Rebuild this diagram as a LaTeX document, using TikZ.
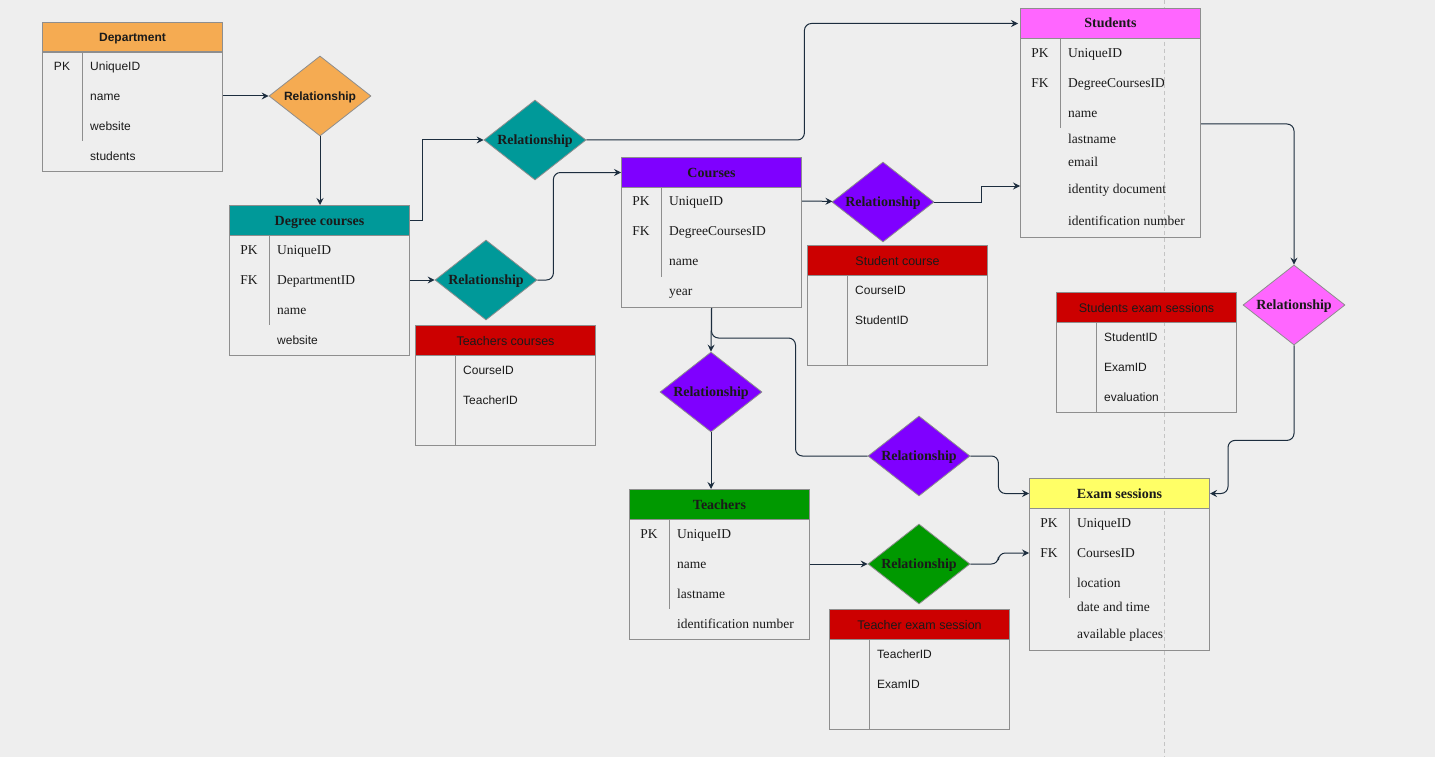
\documentclass[tikz,border=0pt]{standalone}
\usepackage{fontspec}
\setmainfont{Liberation Serif}
\setsansfont{Liberation Sans}
\usetikzlibrary{shapes.geometric,arrows.meta,positioning,calc}

\definecolor{bggray}{HTML}{EEEEEE}
\definecolor{dashgray}{HTML}{C4C4C4}
\definecolor{tbline}{HTML}{8E8E8E}
\definecolor{edgecol}{HTML}{1C2D3E}
\definecolor{txt}{HTML}{1A1A1A}
\definecolor{deptorange}{HTML}{F5AB52}
\definecolor{degteal}{HTML}{009999}
\definecolor{coupurple}{HTML}{7F00FF}
\definecolor{stumagenta}{HTML}{FF66FF}
\definecolor{linkred}{HTML}{CC0000}
\definecolor{teagreen}{HTML}{009900}
\definecolor{examyellow}{HTML}{FFFF66}

\tikzset{
  hdr/.style={draw=tbline, line width=1pt, anchor=north west, minimum width=180pt,
    minimum height=30pt, inner sep=0pt, text height=9pt, text depth=0pt, text=txt},
  hdrsans/.style={hdr, font=\sffamily\fontsize{12.5}{14}\selectfont},
  hdrserif/.style={hdr, font=\rmfamily\bfseries\fontsize{14}{16}\selectfont},
  tbody/.style={draw=tbline, line width=1pt, anchor=north west, minimum width=180pt, inner sep=0pt},
  divider/.style={draw=tbline, line width=1pt},
  rowsans/.style={anchor=west, inner sep=0pt, text height=9pt, text depth=0pt, text=txt,
    font=\sffamily\fontsize{12}{14}\selectfont},
  rowserif/.style={rowsans, font=\rmfamily\fontsize{13.5}{16}\selectfont},
  keysans/.style={rowsans, anchor=center},
  keyserif/.style={rowserif, anchor=center},
  rel/.style={diamond, draw=tbline, line width=0.8pt, minimum width=102pt, minimum height=80pt,
    aspect=1.25, inner sep=0pt, text height=9pt, text depth=0pt, text=txt,
    font=\rmfamily\bfseries\fontsize{14}{16}\selectfont},
  conn/.style={draw=edgecol, line width=1pt, -{Stealth[length=7pt,width=7pt,inset=2.5pt]}},
  link/.style={draw=edgecol, line width=1pt, rounded corners=7pt}
}

\begin{document}
\begin{tikzpicture}[x=1pt,y=-1pt]
  % canvas and page guide
  \useasboundingbox (0,0) rectangle (1435,757);
  \fill[bggray] (0,0) rectangle (1435,757);
  \draw[dashgray, line width=1pt, dash pattern=on 4pt off 3pt] (1164,0) -- (1164,757);

  % Department
  \node[hdr, fill=deptorange, font=\sffamily\bfseries\fontsize{12}{14}\selectfont] (dept-h) at (42,22) {Department};
  \node[tbody, minimum height=120pt] (dept) at (42,51) {};
  \draw[divider] ([xshift=40pt]dept.north west) -- ++(0,90);
  \node[keysans] at (62,66) {PK};
  \foreach \y/\t [count=\i] in {66/UniqueID,96/name,126/website,156/students}
    \node[rowsans] (dept-r\i) at (90,\y) {\t};

  % Degree courses
  \node[hdrserif, fill=degteal] (deg-h) at (229,205) {Degree courses};
  \node[tbody, minimum height=120pt] (deg) at (229,235) {};
  \draw[divider] ([xshift=40pt]deg.north west) -- ++(0,90);
  \node[keyserif] at (249,250) {PK};
  \node[keyserif] at (249,280) {FK};
  \foreach \y/\t [count=\i] in {250/UniqueID,280/DepartmentID,310/name}
    \node[rowserif] (deg-r\i) at (277,\y) {\t};
  \node[rowsans] (deg-r4) at (277,340) {website};

  % Teachers courses
  \node[hdrsans, fill=linkred] (tc-h) at (415,325) {Teachers courses};
  \node[tbody, minimum height=90pt] (tc) at (415,355) {};
  \draw[divider] ([xshift=40pt]tc.north west) -- ++(0,90);
  \foreach \y/\t [count=\i] in {370/CourseID,400/TeacherID}
    \node[rowsans] (tc-r\i) at (463,\y) {\t};

  % Courses
  \node[hdrserif, fill=coupurple] (cou-h) at (621,157) {Courses};
  \node[tbody, minimum height=120pt] (cou) at (621,187) {};
  \draw[divider] ([xshift=40pt]cou.north west) -- ++(0,90);
  \node[keyserif] at (641,201) {PK};
  \node[keyserif] at (641,231) {FK};
  \foreach \y/\t [count=\i] in {201/UniqueID,231/DegreeCoursesID,261/name,291/year}
    \node[rowserif] (cou-r\i) at (669,\y) {\t};

  % Student course
  \node[hdrsans, fill=linkred] (sc-h) at (807,245) {Student course};
  \node[tbody, minimum height=90pt] (sc) at (807,275) {};
  \draw[divider] ([xshift=40pt]sc.north west) -- ++(0,90);
  \foreach \y/\t [count=\i] in {290/CourseID,320/StudentID}
    \node[rowsans] (sc-r\i) at (855,\y) {\t};

  % Students
  \node[hdrserif, fill=stumagenta] (stu-h) at (1020,8) {Students};
  \node[tbody, minimum height=199pt] (stu) at (1020,38) {};
  \draw[divider] ([xshift=40pt]stu.north west) -- ++(0,90);
  \node[keyserif] at (1040,53) {PK};
  \node[keyserif] at (1040,83) {FK};
  \foreach \y/\t [count=\i] in {53/UniqueID,83/DegreeCoursesID,113/name,139/lastname,
      162/email,189/identity document,221/identification number}
    \node[rowserif] (stu-r\i) at (1068,\y) {\t};

  % Students exam sessions
  \node[hdrsans, fill=linkred] (ses-h) at (1056,292) {Students exam sessions};
  \node[tbody, minimum height=90pt] (ses) at (1056,322) {};
  \draw[divider] ([xshift=40pt]ses.north west) -- ++(0,90);
  \foreach \y/\t [count=\i] in {337/StudentID,367/ExamID,397/evaluation}
    \node[rowsans] (ses-r\i) at (1104,\y) {\t};

  % Teachers
  \node[hdrserif, fill=teagreen] (tea-h) at (629,489) {Teachers};
  \node[tbody, minimum height=120pt] (tea) at (629,519) {};
  \draw[divider] ([xshift=40pt]tea.north west) -- ++(0,90);
  \node[keyserif] at (649,534) {PK};
  \foreach \y/\t [count=\i] in {534/UniqueID,564/name,594/lastname,624/identification number}
    \node[rowserif] (tea-r\i) at (677,\y) {\t};

  % Teacher exam session
  \node[hdrsans, fill=linkred] (tes-h) at (829,609) {Teacher exam session};
  \node[tbody, minimum height=90pt] (tes) at (829,639) {};
  \draw[divider] ([xshift=40pt]tes.north west) -- ++(0,90);
  \foreach \y/\t [count=\i] in {654/TeacherID,684/ExamID}
    \node[rowsans] (tes-r\i) at (877,\y) {\t};

  % Exam sessions
  \node[hdrserif, fill=examyellow] (exam-h) at (1029,478) {Exam sessions};
  \node[tbody, minimum height=142pt] (exam) at (1029,508) {};
  \draw[divider] ([xshift=40pt]exam.north west) -- ++(0,90);
  \node[keyserif] at (1049,523) {PK};
  \node[keyserif] at (1049,553) {FK};
  \foreach \y/\t [count=\i] in {523/UniqueID,553/CoursesID,583/location,607/date and time,634/available places}
    \node[rowserif] (exam-r\i) at (1077,\y) {\t};

  % Relationships
  \node[rel, fill=deptorange, font=\sffamily\bfseries\fontsize{12}{14}\selectfont] (reldept) at (320,96) {Relationship};
  \node[rel, fill=degteal] (relstu) at (535,140) {Relationship};
  \node[rel, fill=degteal] (relcou) at (486,280) {Relationship};
  \node[rel, fill=coupurple] (relsc) at (883,202) {Relationship};
  \node[rel, fill=stumagenta] (relse) at (1294,305) {Relationship};
  \node[rel, fill=coupurple] (relte) at (711,392) {Relationship};
  \node[rel, fill=coupurple] (relex) at (919,456) {Relationship};
  \node[rel, fill=teagreen] (relgr) at (919,564) {Relationship};

  % Connectors
  \draw[conn] (dept.east |- dept-r2) -- (reldept);
  \draw[conn] (reldept.south) -- (reldept.south |- deg-h.north);
  \draw[conn] (deg-h.east) -- ++(12,0) |- (relstu.west);
  \draw[conn, link] (relstu.east) -- ++(218,0) |- ([xshift=-2pt]stu-h.west);
  \draw[conn] (deg.east |- deg-r2) -- (relcou);
  \draw[conn, link] (relcou.east) -- ++(16,0) |- (cou-h.west);
  \draw[conn] (cou.east |- cou-r1) -- (relsc);
  \draw[conn] (relsc.east) -- ++(47,0) |- ([yshift=3pt]stu.west |- stu-r6);
  \draw[conn, link] ([yshift=14pt]stu.east) -| (relse.north);
  \draw[conn, link] (relse.south) -- ++(0,95) -- ++(-66,0) |- (exam-h.east);
  \draw[conn] (cou.south) -- (relte.north);
  \draw[link] (cou.south) -- ++(0,30) -- ++(84,0) |- (relex.west);
  \draw[conn, link] (relex.east) -- ++(28,0) |- (exam-h.west);
  \draw[conn] (relte.south) -- (relte.south |- tea-h.north);
  \draw[conn] (tea.east |- tea-r2) -- (relgr);
  \draw[conn, link] (relgr.east) -- ++(28,0) |- (exam.west |- exam-r2);
\end{tikzpicture}
\end{document}
